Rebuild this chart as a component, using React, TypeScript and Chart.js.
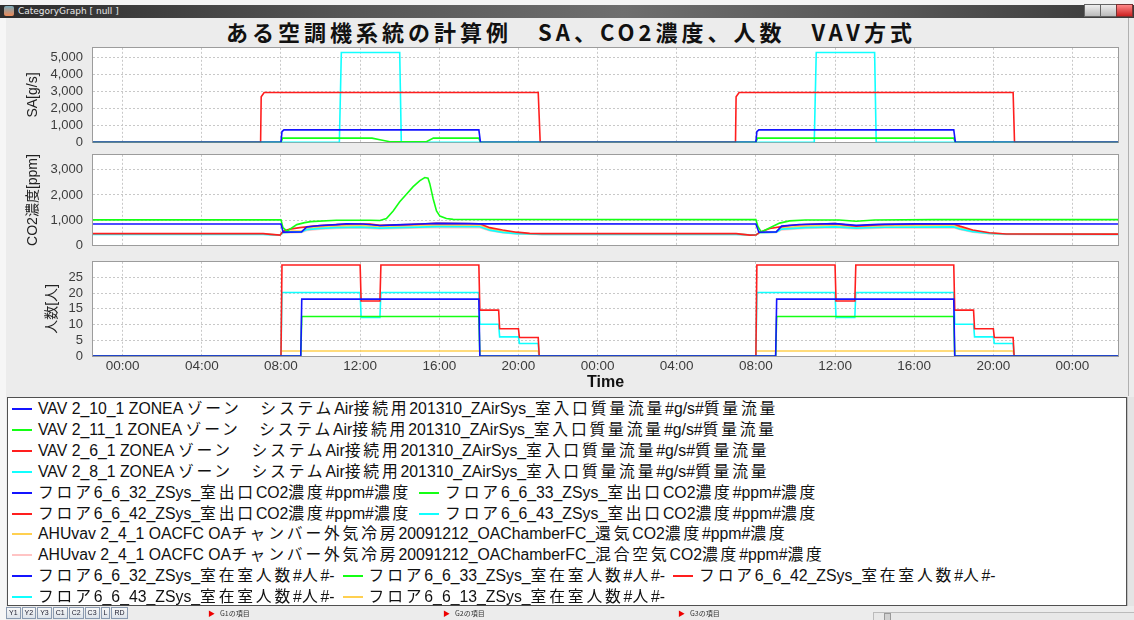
import React, { useEffect, useRef } from 'react';
import { Chart, registerables } from 'chart.js';
Chart.register(...registerables);

type Pts = [number, number][];

// ---------- axes ----------
const xMin = -1.5;
const xMax = 50.3;
const xTickHours = [0, 4, 8, 12, 16, 20, 24, 28, 32, 36, 40, 44, 48];
const saTicks = [0, 1000, 2000, 3000, 4000, 5000];
const co2Ticks = [0, 1000, 2000, 3000];
const pplTicks = [0, 5, 10, 15, 20, 25];

// ---------- panel 1: SA [g/s] ----------
const saVav2_10: Pts = [[-1.5, 0], [8, 0], [8.05, 620], [8.15, 730], [18, 730], [18.08, 0], [32, 0], [32.05, 620], [32.15, 730], [42, 730], [42.08, 0], [50.3, 0]];
const saVav2_11: Pts = [[-1.5, 0], [8, 0], [8.08, 240], [12.6, 240], [13.0, 150], [13.5, 30], [15.35, 30], [15.7, 240], [18, 240], [18.08, 0], [32, 0], [32.08, 240], [42, 240], [42.08, 0], [50.3, 0]];
const saVav2_6: Pts = [[-1.5, 0], [6.97, 0], [7.0, 2700], [7.15, 2950], [21, 2950], [21.1, 0], [30.97, 0], [31.0, 2700], [31.15, 2950], [45, 2950], [45.07, 0], [50.3, 0]];
const saVav2_8: Pts = [[-1.5, 0], [10.95, 0], [11.05, 5320], [14.0, 5320], [14.08, 0], [34.95, 0], [35.05, 5320], [38, 5320], [38.08, 0], [50.3, 0]];

// ---------- panel 2: CO2 [ppm] ----------
const co2F32: Pts = [[-1.5, 845], [8.0, 845], [8.11, 519], [9.04, 530], [9.3, 725], [9.97, 785], [10.8, 821], [11.3, 857], [12.15, 845], [13.0, 785], [13.5, 800], [14.17, 821], [15.0, 845], [15.86, 870], [17.5, 858], [18.0, 850], [32.0, 845], [32.15, 518], [33.03, 530], [33.3, 760], [34.2, 822], [36.0, 858], [37.07, 790], [38.2, 830], [40, 850], [42, 850], [50.3, 845]];
const co2F33: Pts = [[-1.5, 1010], [8.0, 1010], [8.1, 700], [8.3, 560], [8.8, 820], [9.2, 900], [9.5, 940], [10.8, 995], [12.5, 995], [13.0, 985], [13.33, 1060], [13.67, 1365], [14.0, 1727], [14.34, 2029], [14.68, 2331], [15.02, 2572], [15.27, 2693], [15.43, 2669], [15.52, 2452], [15.69, 1848], [15.86, 1365], [16.03, 1159], [16.36, 1062], [16.7, 1027], [32.0, 1020], [32.1, 750], [32.27, 530], [33.2, 880], [33.7, 967], [34.5, 1004], [36.2, 1004], [37.07, 955], [38, 1004], [41, 1020], [50.3, 1020]];
const co2F42: Pts = [[-1.5, 460], [7.1, 460], [7.5, 430], [7.95, 400], [8.11, 555], [8.45, 640], [8.95, 700], [9.63, 760], [10.8, 821], [11.6, 845], [12.5, 845], [13.0, 790], [14.5, 821], [15.86, 870], [18.05, 855], [18.55, 700], [19.2, 605], [19.9, 519], [20.57, 471], [21.2, 459], [31.0, 459], [31.7, 400], [32.0, 405], [32.2, 518], [32.7, 663], [33.3, 740], [33.7, 786], [34.5, 822], [36.0, 858], [37.07, 760], [38.5, 822], [42.0, 845], [42.3, 760], [42.96, 605], [43.8, 496], [44.65, 446], [50.3, 440]];
const co2F43: Pts = [[-1.5, 430], [7.1, 430], [7.95, 400], [8.11, 500], [8.5, 520], [9.04, 530], [9.3, 620], [10, 670], [10.8, 700], [12.0, 720], [13.0, 680], [14.5, 710], [15.86, 740], [18.05, 735], [18.55, 600], [19.2, 510], [19.9, 460], [20.57, 445], [21.2, 430], [31.0, 430], [31.7, 410], [32.0, 410], [32.2, 500], [33.03, 520], [33.3, 640], [34.5, 700], [36.0, 730], [37.07, 680], [38.5, 715], [42.0, 730], [42.3, 650], [42.96, 540], [43.8, 470], [44.65, 435], [50.3, 430]];
const co2AhuRet: Pts = [[-1.5, 445], [7.1, 445], [7.95, 405], [8.11, 510], [8.5, 560], [9.04, 560], [9.3, 660], [10, 720], [10.8, 760], [12.0, 780], [13.0, 740], [14.5, 765], [15.86, 800], [18.05, 795], [18.55, 650], [19.2, 555], [19.9, 490], [20.57, 455], [21.2, 445], [31.0, 445], [31.7, 405], [32.0, 405], [32.2, 510], [33.03, 540], [33.3, 690], [34.5, 760], [36.0, 790], [37.07, 720], [38.5, 770], [42.0, 790], [42.3, 700], [42.96, 570], [43.8, 480], [44.65, 440], [50.3, 440]];
const co2AhuMix: Pts = [[-1.5, 435], [7.1, 435], [7.95, 395], [8.11, 490], [8.5, 500], [9.04, 510], [9.3, 590], [10, 640], [10.8, 665], [12.0, 685], [13.0, 645], [14.5, 675], [15.86, 705], [18.05, 700], [18.55, 575], [19.2, 495], [19.9, 450], [20.57, 438], [21.2, 430], [31.0, 430], [31.7, 400], [32.0, 400], [32.2, 490], [33.03, 505], [33.3, 610], [34.5, 670], [36.0, 700], [37.07, 650], [38.5, 685], [42.0, 700], [42.3, 625], [42.96, 520], [43.8, 460], [44.65, 432], [50.3, 428]];

// ---------- panel 3: occupants ----------
const pplF32: Pts = [[-1.5, 0], [9.0, 0], [9.05, 18.1], [18.0, 18.1], [18.05, 0], [33.0, 0], [33.05, 18.1], [42.0, 18.1], [42.05, 0], [50.3, 0]];
const pplF33: Pts = [[-1.5, 0], [9.0, 0], [9.05, 12.6], [18.0, 12.6], [18.05, 0], [33.0, 0], [33.05, 12.6], [42.0, 12.6], [42.05, 0], [50.3, 0]];
const pplF42: Pts = [[-1.5, 0], [8, 0], [8.05, 29], [12, 29], [12.05, 17.5], [13, 17.5], [13.05, 29], [18, 29], [18.05, 14.6], [19, 14.6], [19.05, 8.7], [20, 8.7], [20.05, 5.9], [21, 5.9], [21.05, 0], [32, 0], [32.05, 29], [36, 29], [36.05, 17.5], [37, 17.5], [37.05, 29], [42, 29], [42.05, 14.6], [43, 14.6], [43.05, 8.7], [44, 8.7], [44.05, 5.9], [45, 5.9], [45.05, 0], [50.3, 0]];
const pplF43: Pts = [[-1.5, 0], [8, 0], [8.05, 20.2], [12, 20.2], [12.05, 12.3], [13, 12.3], [13.05, 20.2], [18, 20.2], [18.05, 10.1], [19, 10.1], [19.05, 6.1], [20, 6.1], [20.05, 4.0], [21, 4.0], [21.05, 0], [32, 0], [32.05, 20.2], [36, 20.2], [36.05, 12.3], [37, 12.3], [37.05, 20.2], [42, 20.2], [42.05, 10.1], [43, 10.1], [43.05, 6.1], [44, 6.1], [44.05, 4.0], [45, 4.0], [45.05, 0], [50.3, 0]];
const pplF13: Pts = [[-1.5, 0], [8, 0], [8.02, 1.6], [21, 1.6], [21.05, 0], [32, 0], [32.02, 1.6], [45, 1.6], [45.05, 0], [50.3, 0]];

// ---------- labels ----------
const saLabels = [
  'VAV 2_10_1 ZONEA ゾーン　システムAir接続用201310_ZAirSys_室入口質量流量#g/s#質量流量',
  'VAV 2_11_1 ZONEA ゾーン　システムAir接続用201310_ZAirSys_室入口質量流量#g/s#質量流量',
  'VAV 2_6_1 ZONEA ゾーン　システムAir接続用201310_ZAirSys_室入口質量流量#g/s#質量流量',
  'VAV 2_8_1 ZONEA ゾーン　システムAir接続用201310_ZAirSys_室入口質量流量#g/s#質量流量',
];
const co2Labels = [
  'フロア6_6_32_ZSys_室出口CO2濃度#ppm#濃度',
  'フロア6_6_33_ZSys_室出口CO2濃度#ppm#濃度',
  'フロア6_6_42_ZSys_室出口CO2濃度#ppm#濃度',
  'フロア6_6_43_ZSys_室出口CO2濃度#ppm#濃度',
  'AHUvav 2_4_1 OACFC OAチャンバー外気冷房20091212_OAChamberFC_還気CO2濃度#ppm#濃度',
  'AHUvav 2_4_1 OACFC OAチャンバー外気冷房20091212_OAChamberFC_混合空気CO2濃度#ppm#濃度',
];
const pplLabels = [
  'フロア6_6_32_ZSys_室在室人数#人#-',
  'フロア6_6_33_ZSys_室在室人数#人#-',
  'フロア6_6_42_ZSys_室在室人数#人#-',
  'フロア6_6_43_ZSys_室在室人数#人#-',
  'フロア6_6_13_ZSys_室在室人数#人#-',
];
const mainTitle = 'ある空調機系統の計算例　SA、CO2濃度、人数　VAV方式';
const saAxisTitle = 'SA[g/s]';
const co2AxisTitle = 'CO2濃度[ppm]';
const pplAxisTitle = '人数[人]';
const xAxisTitle = 'Time';

// ---------- styles ----------
const BLUE = '#1414ff';
const GREEN = '#14ff14';
const RED = '#ff1e1e';
const CYAN = '#10ffff';
const YELLOW = '#ffd050';
const PINK = '#ffc4c4';
const GRID = '#c8c8c8';
const FONT = '"Liberation Sans", "Noto Sans CJK JP", Arial, sans-serif';

type Series = { label: string; data: Pts; color: string };

const saSeries: Series[] = [
  { label: saLabels[0], data: saVav2_10, color: BLUE },
  { label: saLabels[1], data: saVav2_11, color: GREEN },
  { label: saLabels[2], data: saVav2_6, color: RED },
  { label: saLabels[3], data: saVav2_8, color: CYAN },
];
const co2Series: Series[] = [
  { label: co2Labels[0], data: co2F32, color: BLUE },
  { label: co2Labels[1], data: co2F33, color: GREEN },
  { label: co2Labels[2], data: co2F42, color: RED },
  { label: co2Labels[3], data: co2F43, color: CYAN },
  { label: co2Labels[4], data: co2AhuRet, color: YELLOW },
  { label: co2Labels[5], data: co2AhuMix, color: PINK },
];
const pplSeries: Series[] = [
  { label: pplLabels[0], data: pplF32, color: BLUE },
  { label: pplLabels[1], data: pplF33, color: GREEN },
  { label: pplLabels[2], data: pplF42, color: RED },
  { label: pplLabels[3], data: pplF43, color: CYAN },
  { label: pplLabels[4], data: pplF13, color: YELLOW },
];

const legendRows: Series[][] = [
  [saSeries[0]], [saSeries[1]], [saSeries[2]], [saSeries[3]],
  [co2Series[0], co2Series[1]], [co2Series[2], co2Series[3]],
  [co2Series[4]], [co2Series[5]],
  [pplSeries[0], pplSeries[1], pplSeries[2]],
  [pplSeries[3], pplSeries[4]],
];

const fmtHour = (v: number) => {
  const h = ((Math.round(v) % 24) + 24) % 24;
  return (h < 10 ? '0' : '') + h + ':00';
};

const framePlugin = {
  id: 'panelFrame',
  beforeDraw(chart: any) {
    const a = chart.chartArea;
    const ctx = chart.ctx;
    ctx.save();
    ctx.fillStyle = '#ffffff';
    ctx.fillRect(a.left, a.top, a.right - a.left, a.bottom - a.top);
    ctx.restore();
  },
  beforeDatasetsDraw(chart: any) {
    const a = chart.chartArea;
    const ctx = chart.ctx;
    ctx.save();
    ctx.strokeStyle = '#9c9c9c';
    ctx.lineWidth = 1;
    ctx.strokeRect(Math.round(a.left) - 0.5, Math.round(a.top) - 0.5, Math.round(a.right - a.left) + 1, Math.round(a.bottom - a.top) + 1);
    ctx.restore();
  },
};

type PanelProps = {
  top: number; height: number; padTop: number; padBottom: number;
  series: Series[]; ticks: number[]; max: number; title: string; titlePad: number; showX: boolean;
};

function Panel(p: PanelProps) {
  const ref = useRef<HTMLCanvasElement>(null);
  useEffect(() => {
    const chart = new Chart(ref.current as HTMLCanvasElement, {
      type: 'line',
      data: {
        datasets: p.series.map((s) => ({
          label: s.label,
          data: s.data.map(([x, y]) => ({ x, y })),
          borderColor: s.color,
          backgroundColor: s.color,
          borderWidth: 1.6,
          pointRadius: 0,
          tension: 0,
          fill: false,
        })),
      },
      options: {
        animation: false,
        responsive: false,
        maintainAspectRatio: false,
        events: [],
        layout: { padding: { left: 0, right: 16, top: p.padTop, bottom: p.padBottom } },
        plugins: { legend: { display: false }, tooltip: { enabled: false } },
        scales: {
          x: {
            type: 'linear',
            min: xMin,
            max: xMax,
            afterBuildTicks: (a: any) => { a.ticks = xTickHours.map((v) => ({ value: v })); },
            afterFit: (a: any) => { a.height = p.showX ? 36 : 0; },
            grid: { color: GRID, drawTicks: false },
            border: { display: false, dash: [2, 2] },
            ticks: {
              display: p.showX, padding: 2, color: '#3c3c3c', autoSkip: false, maxRotation: 0,
              font: { family: FONT, size: 13.5 },
              callback: (v: any) => fmtHour(Number(v)),
            },
            title: {
              display: p.showX, text: xAxisTitle, color: '#111',
              font: { family: FONT, size: 16, weight: 'bold' }, padding: { top: 0, bottom: 0 },
            },
          },
          y: {
            type: 'linear',
            min: 0,
            max: p.max,
            afterBuildTicks: (a: any) => { a.ticks = p.ticks.map((v) => ({ value: v })); },
            afterFit: (a: any) => { a.width = 93; },
            grid: { color: GRID, drawTicks: false },
            border: { display: false, dash: [2, 2] },
            ticks: {
              padding: 10, color: '#3c3c3c',
              font: { family: FONT, size: 13 },
              callback: (v: any) => Number(v).toLocaleString('en-US'),
            },
            title: {
              display: true, text: p.title, color: '#222',
              font: { family: FONT, size: 14 }, padding: { top: p.titlePad, bottom: 0 },
            },
          },
        },
      } as any,
      plugins: [framePlugin],
    });
    return () => chart.destroy();
  }, []);
  return (
    <canvas
      ref={ref}
      width={1134}
      height={p.height}
      style={{ position: 'absolute', left: 0, top: p.top, width: 1134, height: p.height }}
    />
  );
}

const isCJK = /[\u3000-\u30ff\u4e00-\u9fff\uff00-\uffef]/;
function Mixed({ text, spacing }: { text: string; spacing: number }) {
  const parts = text.split(/([\u3000-\u30ff\u4e00-\u9fff\uff00-\uffef]+)/).filter((s) => s.length);
  return (
    <>
      {parts.map((s, i) =>
        isCJK.test(s) ? <span key={i} style={{ letterSpacing: spacing }}>{s}</span> : <span key={i}>{s}</span>
      )}
    </>
  );
}

function SmallBtn({ t }: { t: string }) {
  return (
    <span style={{
      display: 'inline-block', height: 10, lineHeight: '10px', padding: '0 2px', marginRight: 1,
      border: '1px solid #8a9ab0', background: 'linear-gradient(#f8f8f8,#dde3ea)', fontSize: 7, color: '#223', fontFamily: FONT,
    }}>{t}</span>
  );
}

const legendRowTops = [0, 21, 42, 63, 84, 105, 125, 146, 167, 188];

export default function App() {
  return (
    <div style={{ position: 'fixed', left: 0, top: 0, width: 1134, height: 620, background: '#ececec', overflow: 'hidden', fontFamily: FONT }}>
      {/* window title bar */}
      <div style={{ position: 'absolute', left: 0, top: 0, width: 1134, height: 5, background: '#f4f4f4' }} />
      <div style={{ position: 'absolute', left: 0, top: 5, width: 1134, height: 13, background: 'linear-gradient(to right,#2c2c2c 0%,#555 30%,#6e6e6e 55%,#555 80%,#3a3a3a 100%)' }} />
      <div style={{ position: 'absolute', left: 4, top: 6, width: 10, height: 10, background: 'linear-gradient(#7ab,#e85)', borderRadius: 2 }} />
      <div style={{ position: 'absolute', left: 18, top: 5, height: 13, lineHeight: '13px', fontSize: 9, color: '#e8e8e8', fontFamily: '"DejaVu Sans", sans-serif' }}>CategoryGraph [ null ]</div>
      <div style={{ position: 'absolute', left: 1084, top: 4, width: 15, height: 11, border: '1px solid #666', background: 'linear-gradient(#eee,#bbb)' }} />
      <div style={{ position: 'absolute', left: 1100, top: 4, width: 15, height: 11, border: '1px solid #666', background: 'linear-gradient(#eee,#bbb)' }} />
      <div style={{ position: 'absolute', left: 1116, top: 4, width: 15, height: 11, border: '1px solid #733', background: 'linear-gradient(#f88,#c22)' }} />
      <div style={{ position: 'absolute', left: 0, top: 18, width: 6, height: 602, background: '#f6f6f6' }} />

      {/* right splitter */}
      <div style={{ position: 'absolute', left: 1128, top: 18, width: 1, height: 378, background: '#b0b0b0' }} />

      {/* main title */}
      <div style={{ position: 'absolute', left: 0, top: 18, width: 1142, height: 26, lineHeight: '26px', textAlign: 'center', fontSize: 22, fontWeight: 'bold', color: '#111', fontFamily: '"Noto Sans CJK JP", sans-serif', letterSpacing: 4 }}>
        {mainTitle}
      </div>

      <Panel top={30} height={130} padTop={17} padBottom={13} series={saSeries} ticks={saTicks} max={5600} title={saAxisTitle} titlePad={24.6} showX={false} />
      <Panel top={137} height={126} padTop={15} padBottom={12} series={co2Series} ticks={co2Ticks} max={3600} title={co2AxisTitle} titlePad={24.6} showX={false} />
      <Panel top={244} height={152} padTop={13} padBottom={4} series={pplSeries} ticks={pplTicks} max={30} title={pplAxisTitle} titlePad={43.6} showX={true} />

      {/* legend */}
      <div style={{ position: 'absolute', left: 7, top: 397, width: 1118, height: 207, border: '1px solid #505050', background: '#fff' }}>
        {legendRows.map((row, ri) => (
          <div key={ri} style={{ position: 'absolute', left: 4, top: legendRowTops[ri], height: 21, lineHeight: '21px', whiteSpace: 'nowrap', fontSize: 15.8, color: '#111', display: 'flex', alignItems: 'center' }}>
            {row.map((s, i) => (
              <span key={i} style={{ display: 'inline-flex', alignItems: 'center', marginRight: 8 }}>
                <span style={{ display: 'inline-block', width: 20, height: 2, background: s.color, marginRight: 6 }} />
                <span><Mixed text={s.label} spacing={2.8} /></span>
              </span>
            ))}
          </div>
        ))}
      </div>
      {/* legend scrollbar */}
      <div style={{ position: 'absolute', left: 1127, top: 397, width: 6, height: 209, background: '#e4e4e4', borderLeft: '1px solid #c0c0c0' }} />

      {/* bottom bar */}
      <div style={{ position: 'absolute', left: 6, top: 607, height: 12, display: 'flex' }}>
        {['Y1', 'Y2', 'Y3', 'C1', 'C2', 'C3', 'L', 'RD'].map((t) => <SmallBtn key={t} t={t} />)}
      </div>
      {['G1の項目', 'G2の項目', 'G3の項目'].map((t, i) => (
        <div key={t} style={{ position: 'absolute', left: 208 + i * 235, top: 607, height: 12, lineHeight: '12px', fontSize: 7, color: '#333', fontFamily: '"Noto Sans CJK JP", sans-serif' }}>
          <span style={{ color: '#e00', fontSize: 7, marginRight: 5 }}>▶</span>{t}
        </div>
      ))}
      <div style={{ position: 'absolute', left: 873, top: 612, width: 261, height: 8, background: '#e8e8e8', border: '1px solid #bbb' }}>
        <div style={{ position: 'absolute', left: 10, top: 0, width: 5, height: 8, background: '#d0d0d0', border: '1px solid #999' }} />
      </div>
    </div>
  );
}
